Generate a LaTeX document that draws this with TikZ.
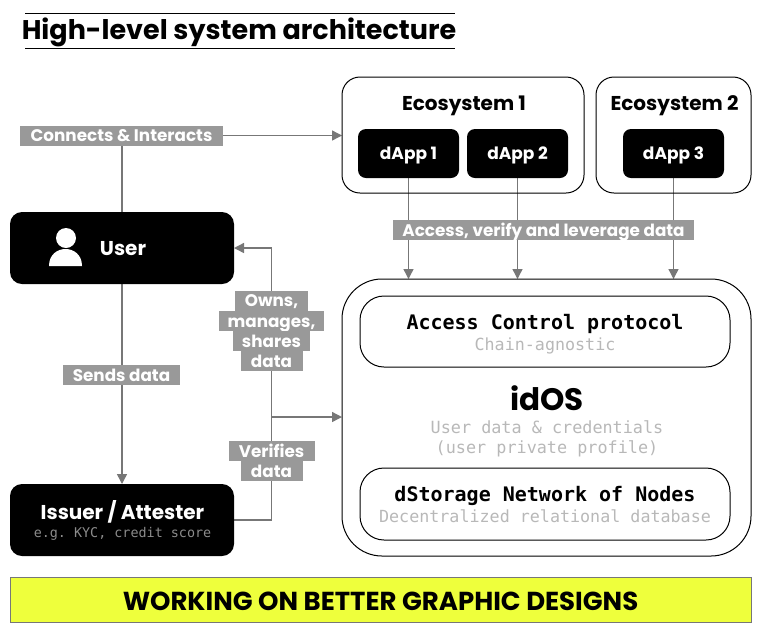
\documentclass[tikz,border=0pt]{standalone}
\usepackage{fontspec}
\setmainfont{Poppins}
\setmonofont{DejaVu Sans Mono}
\usetikzlibrary{arrows.meta, positioning, backgrounds}
\definecolor{arrclr}{HTML}{777777}
\definecolor{lblgray}{HTML}{999999}
\definecolor{subgray}{HTML}{B8B8B8}
\definecolor{darksub}{HTML}{8C8C8C}
\definecolor{bannerclr}{HTML}{EEFF3C}
\newcommand{\fsz}[1]{\fontsize{#1}{#1}\selectfont}
\tikzset{
  blackbox/.style={
    rectangle, rounded corners=12pt, fill=black, text=white,
    inner sep=0pt, outer sep=0pt, align=center,
    minimum width=224pt, minimum height=72pt
  },
  dappbox/.style={
    rectangle, rounded corners=8pt, fill=black, text=white,
    inner sep=0pt, outer sep=0pt,
    font=\fsz{17}\bfseries, text depth=0pt, text height=12pt,
    minimum width=101pt, minimum height=49pt
  },
  ecobox/.style={
    rectangle, rounded corners=18pt, draw=black, line width=1pt,
    inner sep=0pt, outer sep=0pt, minimum height=116pt
  },
  innerbox/.style={
    rectangle, rounded corners=24pt, draw=black, line width=1pt,
    inner sep=0pt, outer sep=0pt,
    minimum width=370pt, minimum height=71pt
  },
  lbl/.style={
    rectangle, fill=lblgray, text=white, font=\fsz{16.8}\bfseries,
    inner sep=0pt, outer sep=0pt, minimum height=20pt, text depth=0pt, text height=12pt
  },
  title/.style={font=\fsz{20}\bfseries, inner sep=0pt},
  monohead/.style={font=\fsz{20}\ttfamily\bfseries, inner sep=0pt, anchor=base},
  monosub/.style={font=\fsz{16.7}\ttfamily, text=subgray, inner sep=0pt, anchor=base},
  arr/.style={-{Triangle[length=10pt,width=10pt]}, line width=1.4pt, arrclr},
  conn/.style={line width=1.4pt, arrclr},
}
\begin{document}
\begin{tikzpicture}[x=1pt,y=-1pt]
\useasboundingbox (0,0) rectangle (762,633);

% --- Heading ---
\node[inner sep=0pt, font=\fsz{27}\bfseries] (heading) at (239,32.5) {High-level system architecture};
\coordinate (headl) at (25,13);
\coordinate (headr) at (455,48);
\draw[line width=1pt] (headl) -- (headl -| headr);
\draw[line width=1pt] (headl |- headr) -- (headr);

% --- Left boxes ---
\node[blackbox] (user) at (122,248) {};
\node[inner sep=0pt, text=white, font=\fsz{20}\bfseries] (usertxt) at (123,249) {User};
\node[blackbox] (issuer) at (122,520) {};
\node[title, text=white, anchor=base] (issuertxt) at (122.5,519) {Issuer / Attester};
\node[inner sep=0pt, anchor=base, text=darksub, font=\fsz{13.4}\ttfamily] (issuersub) at (122.5,537) {e.g. KYC, credit score};
\fill[white] (66,238) circle (10);
\fill[white] (49,266) .. controls (49,254) and (58,249) .. (65.5,249) .. controls (73,249) and (82,254) .. (82,266) -- cycle;

% --- Ecosystems ---
\node[ecobox, minimum width=242pt] (eco1) at (463,135) {};
\node[ecobox, minimum width=155pt] (eco2) at (673.5,135) {};
\node[title] (eco1txt) at (464,106) {Ecosystem 1};
\node[title] (eco2txt) at (674.5,106) {Ecosystem 2};
\node[dappbox] (dapp1) at (408.5,153.5) {dApp 1};
\node[dappbox] (dapp2) at (517.5,153.5) {dApp 2};
\node[dappbox] (dapp3) at (673.5,153.5) {dApp 3};

% --- idOS ---
\node[rectangle, rounded corners=40pt, draw=black, line width=1pt, inner sep=0pt, outer sep=0pt, minimum width=409pt, minimum height=277pt] (idos) at (546.5,417.5) {};
\node[innerbox] (acp) at (545,331.5) {};
\node[monohead] (acptxt) at (545,329) {Access Control protocol};
\node[monosub] (acpsub) at (545,350) {Chain-agnostic};
\node[innerbox, minimum height=72pt] (dstorage) at (545,504) {};
\node[monohead] (dstoragetxt) at (545,501) {dStorage Network of Nodes};
\node[monosub] (dstoragesub) at (545,522) {Decentralized relational database};
\node[inner sep=0pt, anchor=base, font=\fsz{31}\bfseries, text depth=0pt] (idostxt) at (547,410) {idOS};
\node[monosub, font=\fsz{16.8}\ttfamily] (idossuba) at (547,433) {User data \& credentials};
\node[monosub, font=\fsz{16.8}\ttfamily] (idossubb) at (547,453) {(user private profile)};

% --- Labels ---
\node[lbl, minimum width=203pt] (connects) at (121.5,135.5) {Connects \& Interacts};
\node[lbl, minimum width=117pt] (sends) at (121.5,375) {Sends data};
\node[lbl, minimum width=301pt] (access) at (543.5,230) {Access, verify and leverage data};
\node[lbl, minimum width=73pt] (owns) at (271.5,300.5) {Owns,};
\node[lbl, minimum width=105pt] (manages) at (271.5,321) {manages,};
\node[lbl, minimum width=77pt] (shares) at (271.5,341) {shares};
\node[lbl, minimum width=62pt] (sdata) at (271.5,361) {data};
\node[lbl, minimum width=86pt] (verifies) at (271.5,451) {Verifies};
\node[lbl, minimum width=62pt] (vdata) at (271.5,471) {data};

% --- Connectors ---
\coordinate (jct) at (271.5,417);
\begin{scope}[on background layer]
\draw[conn] (user.north) -- (user.north |- connects.south);
\draw[arr] (connects.east) -- (connects.east -| eco1.west);
\draw[arr] (user.south) -- (issuer.north);
\draw[arr] (dapp1.south) -- (dapp1.south |- idos.north);
\draw[arr] (dapp2.south) -- (dapp2.south |- idos.north);
\draw[arr] (dapp3.south) -- (dapp3.south |- idos.north);
\draw[arr] (issuer.east) -- (issuer.east -| jct) -- (user.east -| jct) -- (user.east);
\draw[arr] (jct) -- (jct -| idos.west);
\end{scope}

% --- Banner ---
\node[rectangle, draw=arrclr, line width=1pt, fill=bannerclr, inner sep=0pt, outer sep=0pt, minimum width=741pt, minimum height=45pt, font=\fsz{26}\bfseries, text depth=0pt, text height=21pt] (banner) at (380.5,599.5) {WORKING ON BETTER GRAPHIC DESIGNS};

\end{tikzpicture}
\end{document}
